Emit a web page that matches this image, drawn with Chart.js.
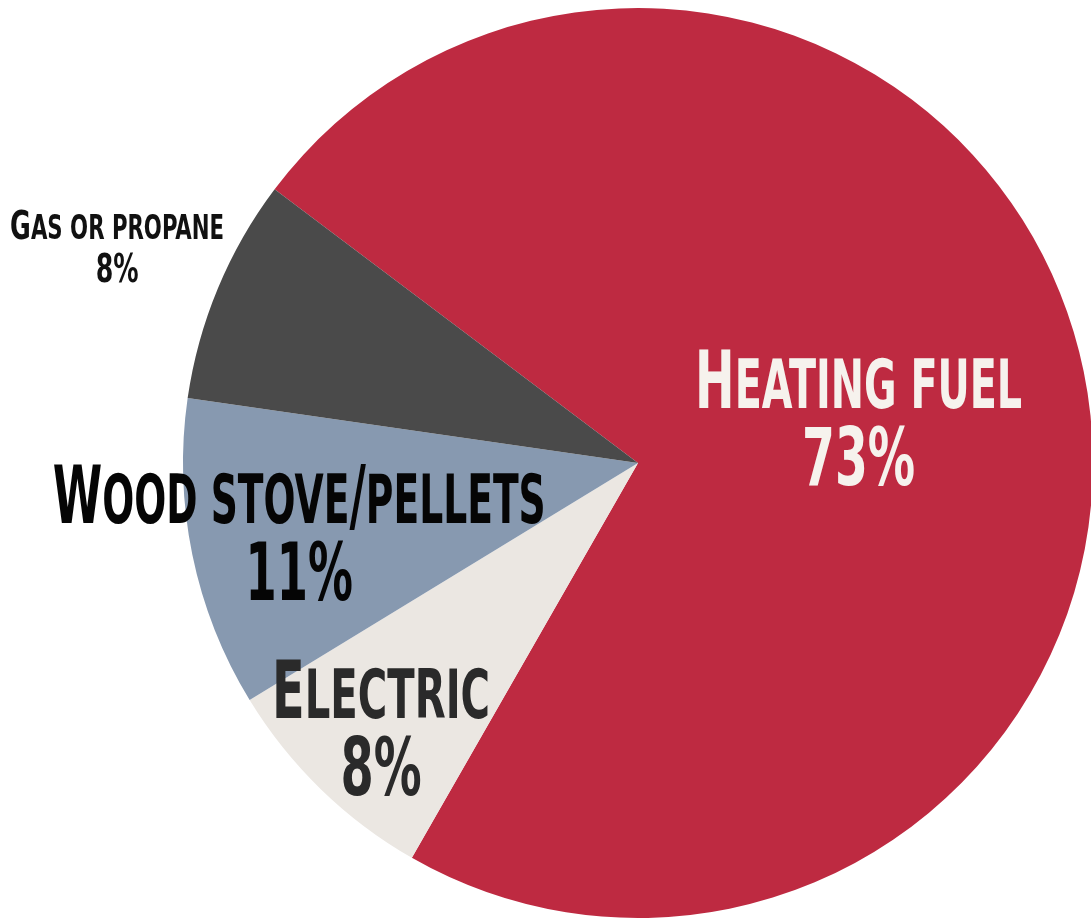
<!DOCTYPE html>
<html>
<head>
<meta charset="utf-8">
<script src="https://cdn.jsdelivr.net/npm/chart.js@4"></script>
<style>
  html, body { margin: 0; padding: 0; background: #fff; overflow: hidden; }
  #wrap { width: 1100px; height: 924px; }
</style>
</head>
<body>
<div id="wrap"><canvas id="pie" width="1100" height="924"></canvas></div>
<script>
const LABELS = ["Heating fuel", "Electric", "Wood stove/pellets", "Gas or propane"];
const VALUES = [73, 8, 11, 8];
const COLORS = ["#be2a41", "#ebe7e2", "#8799b0", "#4a4a4a"];

// label look: distance along the slice middle (fraction of radius), cap height, text colour
const LABEL_STYLE = [
  { dist: 0.495, cap: 58, gap: 77, width: 327, color: "#f6f2ed" },
  { dist: 0.81, cap: 58, gap: 77, width: 218, color: "#2a2a2a" },
  { dist: 0.76, cap: 58, gap: 77, width: 493, color: "#050505" },
  { dist: 1.24, cap: 28, gap: 43, width: 214, color: "#111111" },
];

const FONT = '"Liberation Sans Narrow", "DejaVu Sans Condensed", "Roboto", sans-serif';
const CAP_RATIO = 0.716;   // cap height / font size
const SMALL_RATIO = 0.84;  // small caps size vs. capitals

// split text into runs of (text, isSmall) for fake small caps
const smallCapRuns = (text) => {
  const runs = [];
  for (const ch of text) {
    const small = ch !== ch.toUpperCase() || ch === " " && runs.length && runs[runs.length - 1].small;
    const last = runs[runs.length - 1];
    if (last && last.small === small) last.text += ch.toUpperCase();
    else runs.push({ text: ch.toUpperCase(), small: small });
  }
  return runs;
};

const drawRuns = (ctx, runs, size, cx, baseline, sx) => {
  let total = 0;
  for (const r of runs) {
    ctx.font = `bold ${r.small ? size * SMALL_RATIO : size}px ${FONT}`;
    r.w = ctx.measureText(r.text).width;
    total += r.w;
  }
  ctx.save();
  ctx.translate(cx, baseline);
  ctx.scale(sx, 1);
  let x = -total / 2;
  for (const r of runs) {
    ctx.font = `bold ${r.small ? size * SMALL_RATIO : size}px ${FONT}`;
    ctx.fillText(r.text, x, 0);
    x += r.w;
  }
  ctx.restore();
  return total;
};

const sliceLabels = {
  id: "sliceLabels",
  afterDatasetsDraw(chart) {
    const ctx = chart.ctx;
    const arcs = chart.getDatasetMeta(0).data;
    ctx.save();
    ctx.textAlign = "left";
    ctx.textBaseline = "alphabetic";
    arcs.forEach((arc, i) => {
      const st = LABEL_STYLE[i];
      const mid = (arc.startAngle + arc.endAngle) / 2;
      const cx = arc.x + Math.cos(mid) * arc.outerRadius * st.dist;
      const cy = arc.y + Math.sin(mid) * arc.outerRadius * st.dist;
      const size = st.cap / CAP_RATIO;
      const base1 = cy - (st.gap - st.cap) / 2;
      const base2 = base1 + st.gap;

      ctx.fillStyle = st.color;
      // measure natural width first to get horizontal squeeze
      const runs = smallCapRuns(LABELS[i]);
      let natural = 0;
      for (const r of runs) {
        ctx.font = `bold ${r.small ? size * SMALL_RATIO : size}px ${FONT}`;
        natural += ctx.measureText(r.text).width;
      }
      const sx = st.width / natural;
      drawRuns(ctx, runs, size, cx, base1, sx);
      drawRuns(ctx, [{ text: VALUES[i] + "%", small: false }], size, cx, base2, sx);
    });
    ctx.restore();
  },
};

new Chart(document.getElementById("pie"), {
  type: "pie",
  data: {
    labels: LABELS,
    datasets: [{
      data: VALUES,
      backgroundColor: COLORS,
      borderWidth: 0,
    }],
  },
  options: {
    responsive: false,
    animation: false,
    rotation: -53,
    layout: { padding: { left: 183, right: 7, top: 8, bottom: 6 } },
    plugins: {
      legend: { display: false },
      tooltip: { enabled: false },
    },
  },
  plugins: [sliceLabels],
});
</script>
</body>
</html>
